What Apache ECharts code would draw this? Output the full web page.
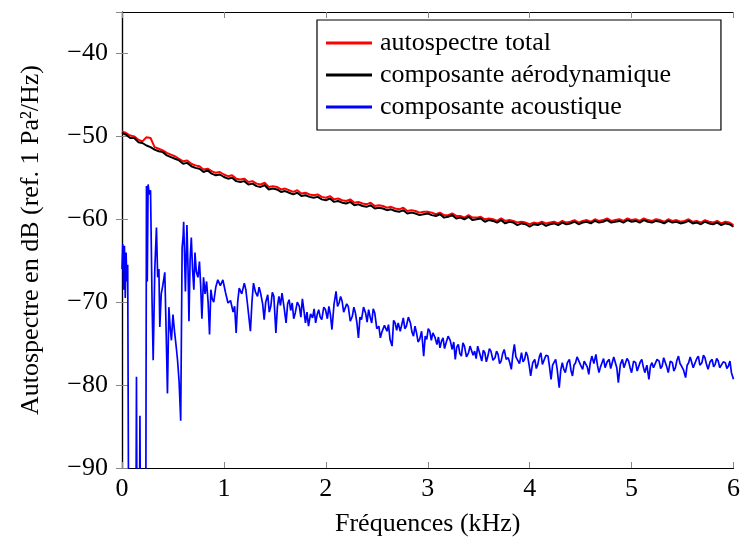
<!DOCTYPE html>
<html><head><meta charset="utf-8">
<script src="https://cdn.jsdelivr.net/npm/echarts@6/dist/echarts.min.js"></script>
<style>html,body{margin:0;padding:0;background:#fff}#c{width:743px;height:542px}</style>
</head><body><div id="c"></div>
<script>
const seriesNames = ['autospectre total', 'composante aérodynamique', 'composante acoustique'];
const xTickValues = [0, 1, 2, 3, 4, 5, 6];
const yTickValues = [-90, -80, -70, -60, -50, -40];
const xTitle = 'Fréquences (kHz)';
const yTitle = 'Autospectre en dB (ref. 1 Pa²/Hz)';

// sampling step (kHz) of the two broadband spectra
const aeroStep = 0.04;
const totalLevel = [
-49.4,-49.6,-49.9,-50.0,-50.4,-50.6,-50.1,-50.2,-51.3,-51.5,-51.7,-52.0,-52.2,-52.4,-52.7,-53.0,-52.9,-53.3,-53.5,-53.6,
-54.0,-53.9,-54.2,-54.4,-54.3,-54.6,-54.8,-54.7,-55.1,-55.2,-55.1,-55.5,-55.4,-55.7,-55.8,-55.6,-56.1,-56.0,-56.1,-56.4,
-56.3,-56.5,-56.7,-56.5,-56.9,-56.8,-57.0,-57.1,-57.0,-57.3,-57.4,-57.2,-57.6,-57.5,-57.7,-57.8,-57.6,-58.0,-57.9,-58.1,
-58.2,-58.0,-58.4,-58.3,-58.4,-58.6,-58.5,-58.7,-58.8,-58.6,-59.0,-58.9,-59.0,-59.2,-59.1,
-59.1,-59.2,-59.4,-59.2,-59.5,-59.5,-59.3,-59.6,-59.6,-59.8,-59.5,-59.8,-59.8,-59.7,-60.0,-59.9,-60.0,-60.2,-59.9,-60.2,
-60.1,-60.2,-60.4,-60.3,-60.4,-60.6,-60.4,-60.5,-60.3,-60.5,-60.4,-60.3,-60.5,-60.2,-60.4,-60.3,-60.1,-60.4,-60.2,-60.1,
-60.3,-60.0,-60.2,-60.1,-59.9,-60.2,-60.1,-60.0,-60.2,-59.9,-60.1,-60.0,-60.2,-59.9,-60.1,-60.2,-60.0,-60.1,-60.3,-60.0,
-60.2,-60.1,-60.3,-60.2,-60.0,-60.3,-60.2,-60.4,-60.1,-60.3,-60.4,-60.2,-60.5,-60.3,-60.4,-60.7
];
const aeroLevel = [
-49.6,-49.8,-50.2,-50.2,-50.7,-50.8,-51.1,-51.3,-51.6,-51.8,-51.9,-52.3,-52.5,-52.7,-52.9,-53.3,-53.2,-53.6,-53.8,-53.9,
-54.3,-54.1,-54.5,-54.7,-54.6,-54.9,-55.1,-55.0,-55.4,-55.5,-55.4,-55.8,-55.7,-56.0,-56.1,-55.9,-56.4,-56.3,-56.4,-56.7,
-56.6,-56.8,-57.0,-56.8,-57.2,-57.1,-57.3,-57.4,-57.3,-57.6,-57.7,-57.5,-57.9,-57.8,-58.0,-58.1,-57.9,-58.3,-58.2,-58.4,
-58.5,-58.3,-58.7,-58.6,-58.7,-58.9,-58.8,-59.0,-59.1,-58.9,-59.3,-59.2,-59.3,-59.5,-59.4,
-59.3,-59.5,-59.6,-59.4,-59.8,-59.7,-59.5,-59.9,-59.8,-60.0,-59.7,-60.1,-60.0,-59.9,-60.3,-60.1,-60.2,-60.4,-60.1,-60.5,
-60.3,-60.4,-60.7,-60.5,-60.6,-60.9,-60.6,-60.7,-60.5,-60.8,-60.6,-60.5,-60.7,-60.4,-60.6,-60.5,-60.3,-60.6,-60.4,-60.3,
-60.5,-60.2,-60.4,-60.3,-60.1,-60.4,-60.3,-60.2,-60.4,-60.1,-60.3,-60.2,-60.4,-60.1,-60.3,-60.4,-60.2,-60.3,-60.5,-60.2,
-60.4,-60.3,-60.5,-60.4,-60.2,-60.5,-60.4,-60.6,-60.3,-60.5,-60.6,-60.4,-60.7,-60.5,-60.6,-60.9
];
// [frequency kHz, level dB]
const acousticPoints = [
[0,-66],[0.008,-63],[0.016,-68.5],[0.024,-63.2],[0.032,-69.5],[0.04,-64],[0.048,-67.5],[0.056,-65.5],[0.066,-100],[0.136,-100],
[0.142,-79],[0.148,-100],[0.17,-100],[0.176,-83.7],[0.182,-100],[0.233,-100],[0.24,-56],[0.248,-67.5],[0.256,-55.8],[0.268,-57],
[0.28,-56.5],[0.295,-70],[0.306,-77],[0.322,-66],[0.338,-61],[0.35,-67],[0.362,-66],[0.371,-73],[0.385,-69],[0.4,-68],
[0.42,-66.4],[0.434,-74],[0.446,-81],[0.46,-70.6],[0.472,-73],[0.485,-74.6],[0.5,-71.5],[0.515,-73.5],[0.533,-75.5],[0.545,-77],
[0.56,-79.5],[0.576,-84.3],[0.59,-63.4],[0.6,-62],[0.605,-60.3],[0.615,-65],[0.622,-68.7],[0.637,-60.7],[0.648,-66],[0.657,-72.3],
[0.668,-65],[0.68,-62.2],[0.692,-66],[0.705,-68.5],[0.716,-64],[0.729,-66.3],[0.745,-67],[0.76,-65.1],[0.772,-68],[0.784,-72],
[0.8,-67],[0.815,-69],[0.83,-67.5],[0.845,-70],[0.859,-73.9],[0.872,-68.5],[0.885,-69.6],[0.9,-70],[0.92,-68.2],[0.94,-67.3],
[0.965,-68],[0.99,-67.3],[1.015,-68.8],[1.04,-70.1],[1.065,-69.8],[1.09,-71.2],[1.105,-70.5],[1.12,-73.7],[1.135,-70],[1.15,-68.3],
[1.175,-69],[1.2,-67.7],[1.215,-68.5],[1.23,-70.1],[1.26,-73.5],[1.275,-70],[1.29,-67.7],[1.31,-68.8],[1.33,-69.3],[1.345,-68.2],
[1.36,-68.9],[1.38,-70.2],[1.395,-72.1],[1.41,-70],[1.43,-69.1],[1.445,-71.2],[1.46,-70.5],[1.475,-68.8],[1.49,-69.3],[1.51,-73.7],
[1.525,-70.5],[1.54,-69.3],[1.555,-70.4],[1.57,-68.9],[1.59,-70.6],[1.61,-72.5],[1.625,-70.2],[1.64,-69.7],[1.655,-71],[1.67,-70.1],
[1.685,-72],[1.7,-71.3],[1.72,-70],[1.74,-70.5],[1.755,-71.8],[1.77,-69.6],[1.785,-71],[1.8,-72.5],[1.815,-71.2],[1.83,-72.9],
[1.85,-71.4],[1.87,-71.9],[1.885,-70.8],[1.9,-72.5],[1.915,-71.5],[1.93,-70.9],[1.945,-71.8],[1.96,-72.1],[1.98,-70.6],[1.997,-70.9],
[2.015,-72],[2.03,-70.5],[2.045,-71.5],[2.06,-73.3],[2.08,-70.3],[2.1,-68.7],[2.115,-70.5],[2.13,-70.1],[2.145,-69.3],[2.16,-69.9],
[2.175,-71.2],[2.19,-71.3],[2.205,-70.2],[2.22,-70.5],[2.24,-72.3],[2.26,-71.7],[2.275,-70.6],[2.29,-71.3],[2.305,-72.5],[2.32,-74.3],
[2.335,-71.8],[2.35,-72.1],[2.37,-70.6],[2.39,-71.3],[2.405,-72.4],[2.42,-70.9],[2.435,-71.8],[2.45,-72.5],[2.465,-70.8],[2.48,-71.3],
[2.5,-73.2],[2.52,-72.9],[2.535,-74.3],[2.55,-73.6],[2.575,-72.8],[2.6,-73.5],[2.615,-72.7],[2.63,-74.5],[2.65,-75.3],[2.665,-72.2],
[2.68,-72.5],[2.695,-73.4],[2.71,-72.5],[2.73,-73.5],[2.745,-72.7],[2.76,-71.9],[2.775,-73.2],[2.79,-72.9],[2.81,-71.8],[2.83,-72.5],
[2.845,-73.6],[2.86,-74.1],[2.875,-72.9],[2.89,-73.7],[2.905,-74.8],[2.92,-74.5],[2.94,-73.5],[2.96,-76.5],[2.975,-74.1],[2.99,-74.5],
[3.005,-73.2],[3.02,-73.5],[3.035,-74.6],[3.05,-73.7],[3.07,-74.2],[3.09,-75.1],[3.105,-74.2],[3.12,-75.5],[3.135,-74.7],[3.15,-74.3],
[3.165,-75.6],[3.18,-74.9],[3.2,-74.1],[3.22,-74.6],[3.24,-75.7],[3.255,-74.8],[3.27,-76.9],[3.285,-75.4],[3.3,-75.1],[3.315,-76.2],
[3.33,-76.5],[3.345,-74.9],[3.36,-75.3],[3.38,-76.6],[3.4,-76.1],[3.415,-75.3],[3.43,-75.1],[3.445,-76.4],[3.46,-75.9],[3.475,-76.8],
[3.49,-75.3],[3.51,-76.2],[3.53,-77.1],[3.545,-75.8],[3.56,-76.1],[3.575,-77.2],[3.59,-76.5],[3.605,-75.6],[3.62,-75.9],[3.64,-77],
[3.66,-76.7],[3.675,-75.9],[3.69,-76.3],[3.705,-77.4],[3.72,-77.1],[3.735,-76.2],[3.75,-75.7],[3.77,-76.9],[3.79,-76.7],[3.805,-77.3],
[3.82,-78.1],[3.835,-76.3],[3.85,-75.1],[3.865,-76.6],[3.88,-76.5],[3.9,-77.4],[3.92,-76.1],[3.935,-77.2],[3.95,-76.9],[3.965,-76],
[3.98,-76.5],[3.995,-77.6],[4.01,-78.9],[4.03,-77.3],[4.05,-76.9],[4.065,-78],[4.08,-77.5],[4.095,-76.6],[4.11,-76.1],[4.125,-77.5],
[4.14,-77.3],[4.16,-76.4],[4.18,-76.5],[4.195,-77.8],[4.21,-79.3],[4.225,-77.6],[4.24,-77.5],[4.255,-76.9],[4.27,-78.1],[4.29,-80.3],
[4.305,-78.2],[4.32,-77.3],[4.335,-78.1],[4.35,-78.5],[4.37,-77.3],[4.39,-76.9],[4.405,-78.2],[4.42,-78.9],[4.435,-77.6],[4.45,-77.3],
[4.465,-76.6],[4.48,-76.7],[4.5,-77.6],[4.52,-78.1],[4.535,-77.1],[4.55,-76.9],[4.565,-77.8],[4.58,-78.7],[4.595,-77.3],[4.61,-76.5],
[4.63,-77.4],[4.65,-76.3],[4.665,-77.6],[4.68,-78.5],[4.695,-77.8],[4.71,-77.3],[4.725,-76.8],[4.74,-77.9],[4.76,-77.2],[4.78,-76.9],
[4.795,-78],[4.81,-77.3],[4.825,-76.6],[4.84,-76.7],[4.855,-77.9],[4.87,-79.7],[4.89,-77.5],[4.91,-76.9],[4.925,-77.9],[4.94,-78.1],
[4.955,-76.8],[4.97,-77.1],[4.985,-77.9],[5.0,-78.5],[5.02,-77.1],[5.04,-77.3],[5.055,-78.3],[5.07,-78.1],[5.085,-77.2],[5.1,-76.9],
[5.115,-77.8],[5.13,-78.5],[5.15,-77.6],[5.17,-79.3],[5.185,-77.7],[5.2,-77.3],[5.215,-77.9],[5.23,-78.1],[5.25,-76.9],[5.27,-77.1],
[5.285,-78],[5.3,-77.7],[5.315,-76.7],[5.33,-76.9],[5.345,-77.8],[5.36,-78.5],[5.38,-77.1],[5.4,-77.3],[5.415,-78.3],[5.43,-77.9],
[5.445,-77],[5.46,-76.5],[5.475,-77.4],[5.49,-77.7],[5.51,-78.2],[5.53,-79.1],[5.545,-77.6],[5.56,-77.3],[5.575,-76.6],[5.59,-76.7],
[5.605,-77.9],[5.62,-77.7],[5.64,-76.8],[5.655,-76.5],[5.67,-77.6],[5.69,-77.3],[5.705,-76.4],[5.72,-76.7],[5.735,-77.5],[5.75,-78.1],
[5.77,-77.2],[5.79,-76.9],[5.805,-77.8],[5.82,-77.5],[5.835,-76.8],[5.85,-77.1],[5.865,-77.9],[5.88,-78.1],[5.9,-77.2],[5.92,-77.3],
[5.935,-78],[5.95,-77.7],[5.965,-77.1],[5.98,-78.5],[6.0,-79.3]
];

const FONT = 'Liberation Serif';
const FS = 26;
const minus = v => String(v).replace('-', '\u2212');

const totalData = totalLevel.map((v, i) => [+(i * aeroStep).toFixed(3), v]);
const aeroData = aeroLevel.map((v, i) => [+(i * aeroStep).toFixed(3), v]);

const xMin = xTickValues[0], xMax = xTickValues[xTickValues.length - 1];
const yMin = yTickValues[0], yMax = -35;

const tickStyle = { show: true, inside: true, length: 6, lineStyle: { color: '#888', width: 1 } };
const lineAx = { show: true, lineStyle: { color: '#000', width: 1.2 } };

const chart = echarts.init(document.getElementById('c'), null, { renderer: 'canvas' });
chart.setOption({
  animation: false,
  backgroundColor: '#fff',
  grid: { left: 122, right: 5, top: 12, bottom: 73, containLabel: false },
  legend: {
    orient: 'vertical', left: 317, top: 20,
    padding: [10, 50, 10, 9],
    itemWidth: 46, itemHeight: 3, itemGap: 6, icon: 'rect',
    borderColor: '#000', borderWidth: 1.2, backgroundColor: '#fff',
    textStyle: { fontFamily: FONT, fontSize: FS, color: '#000', lineHeight: 26, padding: [0, 0, 0, 3] },
    data: seriesNames
  },
  xAxis: [
    { type: 'value', min: xMin, max: xMax, interval: 1,
      name: xTitle, nameLocation: 'middle', nameGap: 43,
      nameTextStyle: { fontFamily: FONT, fontSize: FS, color: '#000' },
      axisLine: lineAx, axisTick: tickStyle, splitLine: { show: false },
      axisLabel: { fontFamily: FONT, fontSize: FS, color: '#000', margin: 8 } },
    { type: 'value', position: 'top', min: xMin, max: xMax, interval: 1,
      axisLine: lineAx, axisTick: tickStyle, splitLine: { show: false }, axisLabel: { show: false } }
  ],
  yAxis: [
    { type: 'value', min: yMin, max: yMax, interval: 10,
      name: yTitle, nameLocation: 'middle', nameGap: 78, nameRotate: 90,
      nameTextStyle: { fontFamily: FONT, fontSize: FS, color: '#000' },
      axisLine: lineAx, axisTick: tickStyle, splitLine: { show: false },
      axisLabel: { fontFamily: FONT, fontSize: FS, color: '#000', margin: 14, showMaxLabel: false,
        formatter: v => (v > -35 ? '' : minus(v)) } },
    { type: 'value', position: 'right', min: yMin, max: yMax, interval: 10,
      axisLine: lineAx, axisTick: tickStyle, splitLine: { show: false }, axisLabel: { show: false } }
  ],
  series: [
    { name: seriesNames[0], type: 'line', data: totalData, showSymbol: false, symbol: 'none',
      lineStyle: { color: '#ff0000', width: 2 }, itemStyle: { color: '#ff0000' }, clip: true },
    { name: seriesNames[1], type: 'line', data: aeroData, showSymbol: false, symbol: 'none',
      lineStyle: { color: '#000000', width: 2 }, itemStyle: { color: '#000000' }, clip: true },
    { name: seriesNames[2], type: 'line', data: acousticPoints, showSymbol: false, symbol: 'none',
      lineStyle: { color: '#0000ff', width: 1.7 }, itemStyle: { color: '#0000ff' }, clip: true }
  ]
});
</script>
</body></html>
